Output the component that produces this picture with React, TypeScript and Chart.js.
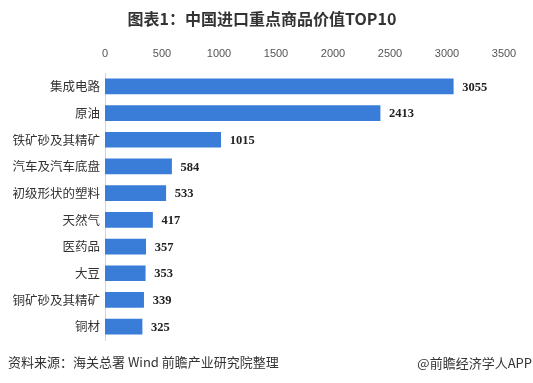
import React, { useEffect, useRef } from "react";
import { Chart, registerables } from "chart.js";

Chart.register(...registerables);

const title = "图表1：中国进口重点商品价值TOP10";
const sourceText = "资料来源：海关总署 Wind 前瞻产业研究院整理";
const brandText = "@前瞻经济学人APP";
const categories = [
  "集成电路",
  "原油",
  "铁矿砂及其精矿",
  "汽车及汽车底盘",
  "初级形状的塑料",
  "天然气",
  "医药品",
  "大豆",
  "铜矿砂及其精矿",
  "铜材",
];
const values = [3055, 2413, 1015, 584, 533, 417, 357, 353, 339, 325];
const xMin = 0;
const xMax = 3500;
const xStep = 500;

const CJK = '"Noto Sans CJK SC", "Noto Sans", sans-serif';

const decorPlugin = {
  id: "decor",
  afterDatasetsDraw(chart: any) {
    const ctx = chart.ctx;
    const meta = chart.getDatasetMeta(0);
    ctx.save();
    ctx.font = 'bold 12.5px "Liberation Serif", "Times New Roman", serif';
    ctx.fillStyle = "#222222";
    ctx.textAlign = "left";
    ctx.textBaseline = "middle";
    meta.data.forEach((bar: any, i: number) => {
      ctx.fillText(String(values[i]), bar.x + 9, bar.y + 1);
    });
    ctx.restore();
  },
  afterDraw(chart: any) {
    const ctx = chart.ctx;
    ctx.save();
    ctx.fillStyle = "#333333";
    ctx.textBaseline = "middle";
    ctx.textAlign = "center";
    ctx.font = "bold 16px " + CJK;
    ctx.fillText(title, 262, 19);
    ctx.font = "13px " + CJK;
    ctx.textAlign = "left";
    ctx.fillText(sourceText, 8, 362);
    ctx.textAlign = "right";
    ctx.fillText(brandText, 532, 363);
    ctx.restore();
  },
};

export default function App() {
  const ref = useRef<HTMLCanvasElement | null>(null);
  useEffect(() => {
    const canvas = ref.current;
    if (!canvas) return;
    const chart = new Chart(canvas, {
      type: "bar",
      data: {
        labels: categories,
        datasets: [
          {
            data: values,
            backgroundColor: "#3a7dd8",
            borderWidth: 0,
            barThickness: 15,
          },
        ],
      },
      options: {
        indexAxis: "y",
        responsive: false,
        animation: false,
        layout: { padding: { top: 40, bottom: 43, left: 0, right: 29 } },
        plugins: {
          legend: { display: false },
          tooltip: { enabled: false },
          title: { display: false },
        },
        scales: {
          x: {
            position: "top",
            min: xMin,
            max: xMax,
            grid: { display: false, drawTicks: false },
            border: { display: false },
            ticks: {
              stepSize: xStep,
              padding: 12,
              color: "#555555",
              font: { family: '"Liberation Sans", Arial, sans-serif', size: 11 },
              callback: (v: any) => String(v),
            },
            afterFit: (scale: any) => {
              scale.height = 33;
            },
          },
          y: {
            grid: { display: false, drawTicks: false },
            border: { display: true, color: "#d4d4d4", width: 1 },
            ticks: {
              padding: 5,
              color: "#333333",
              font: { family: CJK, size: 12.5 },
            },
            afterFit: (scale: any) => {
              scale.width = 105;
            },
          },
        },
      },
      plugins: [decorPlugin],
    } as any);
    return () => chart.destroy();
  }, []);
  return (
    <div style={{ position: "absolute", left: 0, top: 0, width: 533, height: 383, background: "#fff" }}>
      <canvas ref={ref} width={533} height={383} style={{ display: "block" }} />
    </div>
  );
}
